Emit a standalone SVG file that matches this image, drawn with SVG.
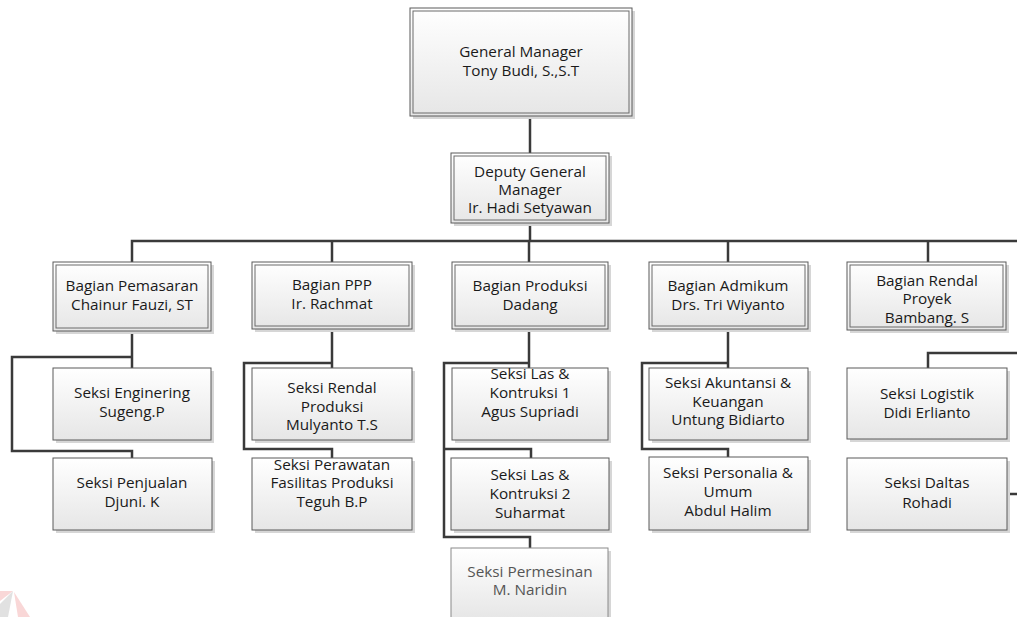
<svg xmlns="http://www.w3.org/2000/svg" width="1017" height="617" viewBox="0 0 1017 617">
  <defs>
    <linearGradient id="boxFill" x1="0" y1="0" x2="0" y2="1">
      <stop offset="0" stop-color="#ffffff"/>
      <stop offset="1" stop-color="#e6e6e6"/>
    </linearGradient>
    <style>
      .shadow { fill: #d6d6d6; }
      .outer { fill: url(#boxFill); stroke: #5a5a5a; stroke-width: 1; }
      .inner { fill: none; stroke: #6a6a6a; stroke-width: 1; }
      .box { fill: url(#boxFill); stroke: #5a5a5a; stroke-width: 1; }
      .lbl { font-family: "Open Sans", "Liberation Sans", sans-serif; font-size: 15.3px; fill: #1a1a1a; text-anchor: middle; }
      .faded .box { stroke: #8a8a8a; }
      .faded .lbl { fill: #555555; }
      .wire { fill: none; stroke: #3a3a3a; stroke-width: 2.5; stroke-linejoin: miter; }
    </style>
  </defs>

  <rect width="1017" height="617" fill="#ffffff"/>

  <!-- faint corner mark -->
  <g id="corner-mark" opacity="0.9">
    <polygon points="0,591 13,591 0,601" fill="#f9d3d3"/>
    <polygon points="13,591 0,604 0,617 8,617" fill="#dedede"/>
    <polygon points="14,592 30,617 18,617" fill="#f9d3d3"/>
  </g>

  <!-- connectors -->
  <g id="connectors" class="wire">
    <path d="M530,116 V153"/>
    <path d="M530,223 V241"/>
    <path d="M132,262 V241 H1017"/>
    <path d="M332,241 V262"/>
    <path d="M529,241 V262"/>
    <path d="M728,241 V262"/>
    <path d="M928,241 V262"/>
    <!-- Bagian Pemasaran -->
    <path d="M132,331 V368"/>
    <path d="M132,357 H12 V451 H132 V458"/>
    <!-- Bagian PPP -->
    <path d="M332,329 V368"/>
    <path d="M332,363 H244 V449 H332 V458"/>
    <!-- Bagian Produksi -->
    <path d="M529,329 V368"/>
    <path d="M529,363 H444 V537 H530 V548"/>
    <path d="M444,449 H531 V458"/>
    <!-- Bagian Admikum -->
    <path d="M728,329 V368"/>
    <path d="M728,363 H642 V449 H728 V457"/>
    <!-- Bagian Rendal Proyek -->
    <path d="M928,368 V353 H1017"/>
    <path d="M1007,494 H1017"/>
  </g>

  <!-- General Manager -->
  <g id="general-manager">
    <rect class="shadow" x="413" y="11" width="222" height="108"/>
    <rect class="outer" x="410" y="8" width="222" height="108"/>
    <rect class="inner" x="413" y="11" width="216" height="102"/>
    <text class="lbl" x="521" y="57">General Manager</text>
    <text class="lbl" x="521" y="76">Tony Budi, S.,S.T</text>
  </g>

  <!-- Deputy General Manager -->
  <g id="deputy-gm">
    <rect class="shadow" x="454" y="156" width="158" height="70"/>
    <rect class="outer" x="451" y="153" width="158" height="70"/>
    <rect class="inner" x="454" y="156" width="152" height="64"/>
    <text class="lbl" x="530" y="177">Deputy General</text>
    <text class="lbl" x="530" y="195">Manager</text>
    <text class="lbl" x="530" y="213">Ir. Hadi Setyawan</text>
  </g>

  <!-- Level 2 -->
  <g id="bagian-pemasaran">
    <rect class="shadow" x="56" y="265" width="158" height="69"/>
    <rect class="outer" x="53" y="262" width="158" height="69"/>
    <rect class="inner" x="56" y="265" width="152" height="63"/>
    <text class="lbl" x="132" y="291">Bagian Pemasaran</text>
    <text class="lbl" x="132" y="310">Chainur Fauzi, ST</text>
  </g>
  <g id="bagian-ppp">
    <rect class="shadow" x="255" y="265" width="160" height="67"/>
    <rect class="outer" x="252" y="262" width="160" height="67"/>
    <rect class="inner" x="255" y="265" width="154" height="61"/>
    <text class="lbl" x="332" y="290">Bagian PPP</text>
    <text class="lbl" x="332" y="309">Ir. Rachmat</text>
  </g>
  <g id="bagian-produksi">
    <rect class="shadow" x="455" y="265" width="156" height="67"/>
    <rect class="outer" x="452" y="262" width="156" height="67"/>
    <rect class="inner" x="455" y="265" width="150" height="61"/>
    <text class="lbl" x="530" y="291">Bagian Produksi</text>
    <text class="lbl" x="530" y="310">Dadang</text>
  </g>
  <g id="bagian-admikum">
    <rect class="shadow" x="652" y="265" width="159" height="67"/>
    <rect class="outer" x="649" y="262" width="159" height="67"/>
    <rect class="inner" x="652" y="265" width="153" height="61"/>
    <text class="lbl" x="728" y="291">Bagian Admikum</text>
    <text class="lbl" x="728" y="310">Drs. Tri Wiyanto</text>
  </g>
  <g id="bagian-rendal-proyek">
    <rect class="shadow" x="850" y="265" width="159" height="68"/>
    <rect class="outer" x="847" y="262" width="159" height="68"/>
    <rect class="inner" x="850" y="265" width="153" height="62"/>
    <text class="lbl" x="927" y="286">Bagian Rendal</text>
    <text class="lbl" x="927" y="304">Proyek</text>
    <text class="lbl" x="927" y="323">Bambang. S</text>
  </g>

  <!-- Level 3 -->
  <g id="seksi-enginering">
    <rect class="shadow" x="56" y="371" width="158" height="72"/>
    <rect class="box" x="53" y="368" width="158" height="72"/>
    <text class="lbl" x="132" y="398">Seksi Enginering</text>
    <text class="lbl" x="132" y="417">Sugeng.P</text>
  </g>
  <g id="seksi-penjualan">
    <rect class="shadow" x="56" y="461" width="159" height="72"/>
    <rect class="box" x="53" y="458" width="159" height="72"/>
    <text class="lbl" x="132" y="488">Seksi Penjualan</text>
    <text class="lbl" x="132" y="507">Djuni. K</text>
  </g>

  <g id="seksi-rendal-produksi">
    <rect class="shadow" x="255" y="371" width="160" height="72"/>
    <rect class="box" x="252" y="368" width="160" height="72"/>
    <text class="lbl" x="332" y="393">Seksi Rendal</text>
    <text class="lbl" x="332" y="412">Produksi</text>
    <text class="lbl" x="332" y="430">Mulyanto T.S</text>
  </g>
  <g id="seksi-perawatan">
    <rect class="shadow" x="255" y="461" width="160" height="72"/>
    <rect class="box" x="252" y="458" width="160" height="72"/>
    <text class="lbl" x="332" y="470">Seksi Perawatan</text>
    <text class="lbl" x="332" y="488">Fasilitas Produksi</text>
    <text class="lbl" x="332" y="507">Teguh B.P</text>
  </g>

  <g id="seksi-las-1">
    <rect class="shadow" x="455" y="371" width="156" height="72"/>
    <rect class="box" x="452" y="368" width="156" height="72"/>
    <text class="lbl" x="530" y="379">Seksi Las &amp;</text>
    <text class="lbl" x="530" y="398">Kontruksi 1</text>
    <text class="lbl" x="530" y="417">Agus Supriadi</text>
  </g>
  <g id="seksi-las-2">
    <rect class="shadow" x="454" y="461" width="158" height="72"/>
    <rect class="box" x="451" y="458" width="158" height="72"/>
    <text class="lbl" x="530" y="480">Seksi Las &amp;</text>
    <text class="lbl" x="530" y="499">Kontruksi 2</text>
    <text class="lbl" x="530" y="518">Suharmat</text>
  </g>
  <g id="seksi-permesinan" class="faded">
    <rect class="shadow" x="454" y="551" width="157" height="72"/>
    <rect class="box" x="451" y="548" width="157" height="72"/>
    <text class="lbl" x="530" y="577">Seksi Permesinan</text>
    <text class="lbl" x="530" y="595">M. Naridin</text>
  </g>

  <g id="seksi-akuntansi">
    <rect class="shadow" x="652" y="371" width="159" height="72"/>
    <rect class="box" x="649" y="368" width="159" height="72"/>
    <text class="lbl" x="728" y="388">Seksi Akuntansi &amp;</text>
    <text class="lbl" x="728" y="407">Keuangan</text>
    <text class="lbl" x="728" y="425">Untung Bidiarto</text>
  </g>
  <g id="seksi-personalia">
    <rect class="shadow" x="652" y="460" width="159" height="73"/>
    <rect class="box" x="649" y="457" width="159" height="73"/>
    <text class="lbl" x="728" y="478">Seksi Personalia &amp;</text>
    <text class="lbl" x="728" y="497">Umum</text>
    <text class="lbl" x="728" y="516">Abdul Halim</text>
  </g>

  <g id="seksi-logistik">
    <rect class="shadow" x="850" y="371" width="160" height="71"/>
    <rect class="box" x="847" y="368" width="160" height="71"/>
    <text class="lbl" x="927" y="399">Seksi Logistik</text>
    <text class="lbl" x="927" y="418">Didi Erlianto</text>
  </g>
  <g id="seksi-daltas">
    <rect class="shadow" x="850" y="461" width="160" height="72"/>
    <rect class="box" x="847" y="458" width="160" height="72"/>
    <text class="lbl" x="927" y="488">Seksi Daltas</text>
    <text class="lbl" x="927" y="508">Rohadi</text>
  </g>
</svg>
